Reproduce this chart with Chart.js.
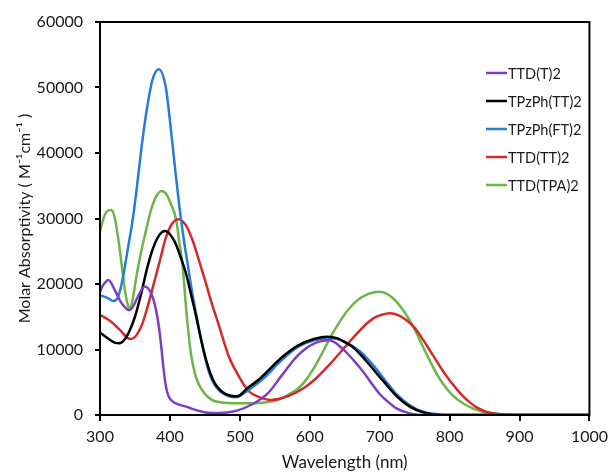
<!DOCTYPE html>
<html>
<head>
<meta charset="utf-8">
<script src="https://cdn.jsdelivr.net/npm/chart.js@4.4.1/dist/chart.umd.min.js"></script>
<style>
  html, body { margin: 0; padding: 0; background: #fff; }
  #wrap { width: 614px; height: 473px; }
</style>
</head>
<body>
<div id="wrap"><canvas id="absChart"></canvas></div>
<script>
// --- Data ----------------------------------------------------
const seriesNames = ['TTD(T)2', 'TPzPh(TT)2', 'TPzPh(FT)2', 'TTD(TT)2', 'TTD(TPA)2'];
const seriesColors = ['#7d3ec1', '#000000', '#2b7bd6', '#d42a2a', '#6cb547'];

const xTicks = [300, 400, 500, 600, 700, 800, 900, 1000];
const yTicks = [0, 10000, 20000, 30000, 40000, 50000, 60000];

const ttdTWl = [300, 302, 307, 312, 321, 331, 342, 348, 354, 364, 375, 382, 386, 389, 392, 396, 400, 406, 423, 446, 460, 489, 517, 540, 559, 583, 606, 628, 649, 668, 682, 690, 700, 710, 724, 743, 770, 1000];
const ttdT   = [18800, 19350, 20200, 20600, 19100, 17050, 16000, 16700, 18050, 19600, 18050, 15000, 12000, 9000, 6000, 3500, 2500, 1900, 1270, 500, 300, 500, 1600, 3300, 5900, 9100, 10900, 11400, 9900, 7700, 5800, 4600, 3200, 2200, 1000, 250, 0, 0];

const tpzTTWl = [300, 310, 320, 328, 335, 342, 350, 359, 368, 376, 385, 393, 400, 408, 415, 423, 430, 437, 444, 451, 458, 465, 472, 480, 489, 496, 512, 526, 536, 559, 583, 606, 625, 640, 649, 660, 672, 686, 696, 705, 724, 743, 762, 790, 1000];
const tpzTT   = [12600, 11800, 11100, 10950, 11500, 12800, 15000, 18600, 22650, 25500, 27500, 28100, 27600, 26200, 24200, 21600, 18500, 15300, 11800, 8700, 6300, 4700, 3800, 3200, 2900, 2850, 4200, 5300, 6300, 8700, 10600, 11600, 11950, 11700, 11200, 10500, 9300, 7600, 6300, 5200, 2900, 1270, 400, 0, 0];

const tpzFTWl = [300, 305, 312, 319, 326, 333, 340, 347, 353, 359, 366, 375, 384, 394, 401, 407, 413, 420, 425, 432, 441, 451, 460, 472, 486, 493, 512, 536, 559, 583, 606, 630, 649, 672, 690, 710, 724, 743, 762, 790, 810, 1000];
const tpzFT   = [18300, 18100, 17800, 17400, 18050, 21100, 25500, 30000, 35000, 40500, 46000, 51150, 52800, 50100, 44000, 38000, 32300, 26700, 23300, 18600, 13500, 8400, 5350, 3560, 2800, 2700, 3800, 5800, 8300, 10400, 11400, 11700, 11200, 9700, 7700, 5000, 3200, 1500, 500, 50, 0, 0];

const ttdTTWl = [300, 316, 331, 340, 345, 359, 368, 378, 385, 394, 403, 412, 422, 432, 441, 451, 460, 470, 484, 498, 512, 526, 545, 569, 590, 606, 630, 653, 668, 682, 691, 703, 715, 727, 738, 750, 762, 771, 781, 790, 800, 809, 818, 828, 837, 852, 870, 900, 1000];
const ttdTT   = [15300, 14250, 12700, 11700, 11600, 13500, 16500, 20500, 23300, 27000, 29200, 29900, 29100, 26800, 23800, 20300, 17000, 13700, 9000, 6000, 3700, 2800, 2300, 2900, 4000, 5300, 7900, 10700, 12500, 14000, 14760, 15300, 15530, 15200, 14500, 13300, 11500, 10000, 8300, 6800, 5300, 4100, 3000, 2000, 1270, 500, 150, 0, 0];

const ttdTPAWl = [300, 305, 310, 316, 321, 326, 330, 335, 340, 343, 347, 352, 358, 365, 373, 380, 388, 395, 401, 409, 413, 418, 423, 427, 430, 437, 446, 460, 479, 500, 517, 540, 555, 569, 583, 595, 606, 618, 630, 642, 653, 668, 684, 700, 712, 724, 736, 748, 762, 776, 790, 804, 823, 847, 870, 900, 1000];
const ttdTPA   = [28000, 30000, 31100, 31300, 30200, 27000, 23800, 19500, 16700, 16300, 17800, 21100, 24500, 27800, 31300, 33300, 34200, 33700, 32300, 29800, 26700, 23000, 16500, 12000, 9400, 5850, 3800, 2300, 1880, 1780, 1780, 2000, 2300, 3050, 4000, 5400, 7200, 9500, 11950, 14100, 15800, 17500, 18500, 18830, 18400, 17300, 15600, 13500, 10430, 7380, 4840, 3050, 1530, 500, 150, 0, 0];

const wavelengths = [ttdTWl, tpzTTWl, tpzFTWl, ttdTTWl, ttdTPAWl];
const values = [ttdT, tpzTT, tpzFT, ttdTT, ttdTPA];

// --- Helpers --------------------------------------------------
const FONT = "Lato, 'Open Sans', sans-serif";
const INK = '#1a1a1a';

const datasets = seriesNames.map((name, i) => ({
  label: name,
  data: wavelengths[i].map((w, j) => ({ x: w, y: values[i][j] })),
  borderColor: seriesColors[i],
  backgroundColor: seriesColors[i],
  borderWidth: 2.5,
  pointRadius: 0,
  cubicInterpolationMode: 'monotone',
  fill: false
}));

// box around the plot (top and right edges)
const frame = {
  id: 'frame',
  afterDatasetsDraw(chart) {
    const { ctx, chartArea: a } = chart;
    ctx.save();
    ctx.strokeStyle = '#000';
    ctx.lineWidth = 2;
    ctx.strokeRect(a.left, a.top, a.right - a.left, a.bottom - a.top);
    ctx.restore();
  }
};

// legend drawn inside the plot, top right
const insideLegend = {
  id: 'insideLegend',
  afterDraw(chart) {
    const { ctx, chartArea: a } = chart;
    const x0 = a.left + 386;
    const y0 = a.top + 51;
    ctx.save();
    ctx.font = '14.5px ' + FONT;
    ctx.textBaseline = 'middle';
    chart.data.datasets.forEach((ds, i) => {
      const y = y0 + i * 28;
      ctx.strokeStyle = ds.borderColor;
      ctx.lineWidth = 2.5;
      ctx.beginPath();
      ctx.moveTo(x0, y);
      ctx.lineTo(x0 + 21, y);
      ctx.stroke();
      ctx.fillStyle = INK;
      ctx.fillText(ds.label, x0 + 22, y + 1);
    });
    ctx.restore();
  }
};

new Chart(document.getElementById('absChart'), {
  type: 'line',
  data: { datasets },
  options: {
    responsive: true,
    maintainAspectRatio: false,
    animation: false,
    layout: { padding: { top: 22, right: 19, left: 0, bottom: 0 } },
    plugins: {
      legend: { display: false },
      tooltip: { enabled: false }
    },
    scales: {
      x: {
        type: 'linear',
        min: 300,
        max: 1000,
        afterBuildTicks: s => { s.ticks = xTicks.map(v => ({ value: v })); },
        afterFit: s => { s.height = 58; },
        grid: { display: true, drawOnChartArea: false, drawTicks: true, tickLength: 6, color: '#000', lineWidth: 2 },
        border: { display: true, color: '#000', width: 2 },
        ticks: { color: INK, font: { family: FONT, size: 16 }, padding: 6, maxRotation: 0, callback: v => String(v) },
        title: { display: true, text: 'Wavelength (nm)', color: INK, font: { family: FONT, size: 17 }, padding: { top: 0, bottom: 0 } }
      },
      y: {
        min: 0,
        max: 60000,
        afterBuildTicks: s => { s.ticks = yTicks.map(v => ({ value: v })); },
        afterFit: s => { s.width = 100; },
        grid: { display: true, drawOnChartArea: false, drawTicks: true, tickLength: 5, color: '#000', lineWidth: 2 },
        border: { display: true, color: '#000', width: 2 },
        ticks: { color: INK, font: { family: FONT, size: 16 }, padding: 12, callback: v => String(v) },
        title: { display: true, text: 'Molar Absorptivity ( M\u207B\u00B9cm\u207B\u00B9 )', color: INK, font: { family: FONT, size: 16 }, padding: { top: 15, bottom: 0 } }
      }
    }
  },
  plugins: [frame, insideLegend]
});
</script>
</body>
</html>
